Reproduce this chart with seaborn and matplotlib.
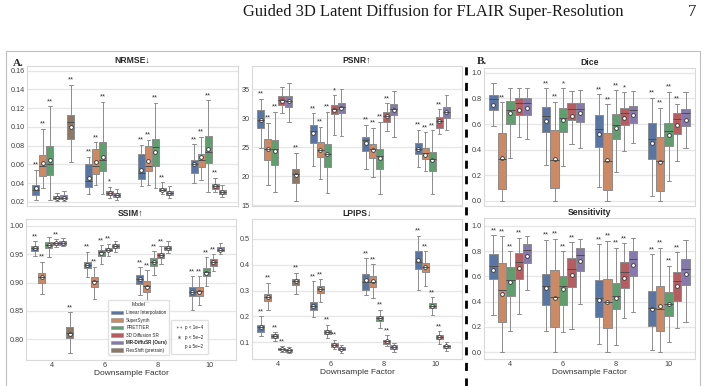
import numpy as np
import pandas as pd
import seaborn as sns
import matplotlib.pyplot as plt
from matplotlib.patches import Patch, Rectangle
from matplotlib.lines import Line2D

nan = np.nan
factors = ["4", "6", "8", "10"]
models = ["Linear Interpolation", "SuperSynth", "PRETTIER", "3D Diffusion SR",
          "MR-DiffuSR (Ours)", "ResShift (pretrain)"]
seg_models = models[:5]

# rows = model, cols = downsample factor (4, 6, 8, 10)
# --- NRMSE ---
nrmse_lo = [[0.022, 0.0286, 0.0364, 0.040], [0.035, 0.0375, 0.0382, 0.0429], [0.022, 0.0279, 0.0343, 0.0304],
            [0.021, 0.024, 0.0279, 0.0307], [0.0207, 0.0221, 0.0239, 0.0254], [0.062, nan, nan, nan]]
nrmse_q1 = [[0.0268, 0.0357, 0.0446, 0.0511], [0.0479, 0.050, 0.0529, 0.0571], [0.0489, 0.0529, 0.0579, 0.0618],
            [0.0232, 0.0268, 0.0311, 0.0339], [0.0229, 0.025, 0.0268, 0.0279], [0.0868, nan, nan, nan]]
nrmse_med = [[0.033, 0.0421, 0.0507, 0.0607], [0.0579, 0.0586, 0.0586, 0.0646], [0.0604, 0.065, 0.0786, 0.0729],
             [0.0245, 0.029, 0.0325, 0.0365], [0.0245, 0.0273, 0.029, 0.030], [0.105, nan, nan, nan]]
nrmse_q3 = [[0.0382, 0.0607, 0.0707, 0.065], [0.070, 0.0768, 0.0793, 0.0714], [0.0796, 0.0836, 0.0871, 0.090],
            [0.0257, 0.031, 0.035, 0.0389], [0.0268, 0.0296, 0.0318, 0.0321], [0.1125, nan, nan, nan]]
nrmse_hi = [[0.0543, 0.0679, 0.0807, 0.0814], [0.0982, 0.0836, 0.0864, 0.0896], [0.1218, 0.127, 0.126, 0.1286],
            [0.0296, 0.036, 0.0411, 0.0457], [0.0318, 0.0339, 0.0371, 0.0382], [0.145, nan, nan, nan]]
nrmse_mean = [[0.0346, 0.045, 0.0543, 0.0607], [0.0614, 0.0625, 0.064, 0.0675], [0.065, 0.0682, 0.0729, 0.0768],
              [0.024, 0.029, 0.0325, 0.0365], [0.024, 0.0275, 0.029, 0.030], [0.100, nan, nan, nan]]
nrmse_sig = [["**"] * 4, ["**"] * 4, ["**"] * 4, ["", "*", "**", "**"], [""] * 4, ["**", "", "", ""]]

# --- PSNR ---
psnr_lo = [[24.9, 21.7, 21.3, 21.65], [18.45, 19.6, 19.95, 20.9], [17.35, 17.2, 16.9, 16.9],
           [30.9, 27.05, 27.8, 27.25], [29.4, 26.95, 26.8, 27.9], [15.75, nan, nan, nan]]
psnr_q1 = [[28.4, 25.8, 24.35, 23.8], [22.9, 23.4, 23.2, 22.95], [21.9, 21.65, 21.2, 20.9],
           [32.3, 30.7, 29.35, 28.4], [31.9, 30.95, 30.5, 30.1], [18.9, nan, nan, nan]]
psnr_med = [[29.65, 27.75, 26.2, 24.65], [24.65, 24.55, 24.65, 23.95], [24.65, 23.8, 23.5, 22.95],
            [33.1, 31.55, 30.4, 29.55], [33.05, 31.95, 31.55, 31.1], [20.35, nan, nan, nan]]
psnr_q3 = [[31.4, 28.8, 26.85, 25.8], [26.4, 26.0, 25.5, 24.95], [26.2, 25.5, 24.75, 24.2],
           [33.75, 32.3, 31.1, 30.2], [33.75, 32.7, 32.4, 31.95], [21.3, nan, nan, nan]]
psnr_hi = [[33.4, 30.9, 28.9, 28.0], [29.25, 28.55, 28.4, 27.6], [31.15, 31.15, 29.4, 27.9],
           [35.45, 34.0, 32.6, 31.55], [36.0, 35.0, 34.7, 33.95], [24.1, nan, nan, nan]]
psnr_mean = [[29.65, 27.4, 25.7, 24.65], [24.65, 24.55, 24.55, 23.7], [24.45, 23.8, 23.1, 22.75],
             [33.0, 31.4, 30.4, 29.5], [32.9, 31.85, 31.4, 31.0], [20.2, nan, nan, nan]]
psnr_sig = nrmse_sig

# --- SSIM ---
ssim_lo = [[0.947, 0.909, 0.878, 0.852], [0.880, 0.871, 0.866, 0.861], [0.945, 0.933, 0.914, 0.894],
           [0.962, 0.946, 0.933, 0.921], [0.964, 0.953, 0.952, 0.950], [0.775, nan, nan, nan]]
ssim_q1 = [[0.956, 0.925, 0.897, 0.876], [0.900, 0.893, 0.884, 0.876], [0.961, 0.947, 0.929, 0.911],
           [0.966, 0.955, 0.943, 0.930], [0.967, 0.961, 0.958, 0.955], [0.802, nan, nan, nan]]
ssim_med = [[0.961, 0.931, 0.906, 0.884], [0.909, 0.902, 0.894, 0.885], [0.966, 0.953, 0.937, 0.918],
            [0.969, 0.958, 0.948, 0.936], [0.970, 0.965, 0.961, 0.958], [0.811, nan, nan, nan]]
ssim_q3 = [[0.964, 0.937, 0.914, 0.893], [0.916, 0.909, 0.903, 0.893], [0.972, 0.958, 0.943, 0.925],
           [0.972, 0.961, 0.952, 0.941], [0.973, 0.968, 0.965, 0.962], [0.821, nan, nan, nan]]
ssim_hi = [[0.973, 0.954, 0.927, 0.911], [0.937, 0.928, 0.922, 0.911], [0.980, 0.966, 0.955, 0.945],
           [0.976, 0.968, 0.964, 0.950], [0.978, 0.974, 0.974, 0.969], [0.848, nan, nan, nan]]
ssim_mean = [[0.961, 0.931, 0.906, 0.884], [0.909, 0.901, 0.893, 0.884], [0.966, 0.952, 0.936, 0.917],
             [0.969, 0.958, 0.948, 0.936], [0.970, 0.965, 0.961, 0.958], [0.809, nan, nan, nan]]
ssim_sig = [["**"] * 4, ["**"] * 4, ["", "**", "**", "**"], ["**"] * 4, [""] * 4, ["**", "", "", ""]]

# --- LPIPS ---
lpips_lo = [[0.123, 0.198, 0.284, 0.301], [0.226, 0.255, 0.272, 0.317], [0.104, 0.117, 0.155, 0.207],
            [0.061, 0.072, 0.085, 0.095], [0.059, 0.059, 0.061, 0.065], [0.287, nan, nan, nan]]
lpips_q1 = [[0.140, 0.226, 0.304, 0.384], [0.259, 0.291, 0.314, 0.371], [0.117, 0.130, 0.181, 0.233],
            [0.069, 0.082, 0.095, 0.113], [0.061, 0.069, 0.072, 0.078], [0.323, nan, nan, nan]]
lpips_med = [[0.158, 0.242, 0.332, 0.410], [0.274, 0.306, 0.332, 0.390], [0.123, 0.140, 0.192, 0.242],
             [0.074, 0.090, 0.104, 0.121], [0.068, 0.075, 0.081, 0.085], [0.336, nan, nan, nan]]
lpips_q3 = [[0.168, 0.257, 0.366, 0.452], [0.287, 0.317, 0.358, 0.407], [0.130, 0.149, 0.203, 0.252],
            [0.078, 0.097, 0.110, 0.127], [0.074, 0.082, 0.088, 0.091], [0.346, nan, nan, nan]]
lpips_hi = [[0.200, 0.336, 0.426, 0.513], [0.330, 0.343, 0.401, 0.452], [0.139, 0.167, 0.226, 0.275],
            [0.085, 0.110, 0.126, 0.143], [0.081, 0.091, 0.097, 0.101], [0.368, nan, nan, nan]]
lpips_mean = [[0.158, 0.242, 0.340, 0.420], [0.274, 0.306, 0.337, 0.390], [0.123, 0.140, 0.192, 0.242],
              [0.074, 0.090, 0.104, 0.121], [0.068, 0.075, 0.081, 0.085], [0.336, nan, nan, nan]]
lpips_sig = [["**"] * 4, ["**"] * 4, ["**"] * 4, ["**"] * 4, [""] * 4, ["**", "", "", ""]]

# --- Dice ---
dice_lo = [[0.587, 0.279, 0.110, 0.037], [0.0, 0.0, 0.0, 0.0], [0.332, 0.274, 0.224, 0.158],
           [0.500, 0.447, 0.392, 0.311], [0.484, 0.413, 0.453, 0.411]]
dice_q1 = [[0.710, 0.537, 0.421, 0.326], [0.095, 0.100, 0.089, 0.079], [0.597, 0.537, 0.484, 0.426],
           [0.674, 0.629, 0.595, 0.526], [0.674, 0.616, 0.611, 0.584]]
dice_med = [[0.795, 0.663, 0.563, 0.484], [0.330, 0.321, 0.311, 0.308], [0.710, 0.650, 0.595, 0.542],
            [0.763, 0.721, 0.684, 0.642], [0.763, 0.721, 0.710, 0.689]]
dice_q3 = [[0.826, 0.732, 0.671, 0.611], [0.534, 0.553, 0.532, 0.500], [0.779, 0.729, 0.682, 0.611],
           [0.800, 0.763, 0.729, 0.689], [0.800, 0.763, 0.737, 0.721]]
dice_hi = [[0.918, 0.879, 0.832, 0.805], [0.768, 0.774, 0.753, 0.726], [0.879, 0.879, 0.863, 0.853],
           [0.884, 0.861, 0.847, 0.758], [0.884, 0.863, 0.855, 0.853]]
dice_mean = [[0.747, 0.621, 0.526, 0.453], [0.337, 0.326, 0.318, 0.305], [0.684, 0.632, 0.566, 0.516],
             [0.710, 0.663, 0.645, 0.595], [0.726, 0.684, 0.668, 0.632]]
dice_sig = [["", "**", "**", "**"], ["**"] * 4, ["", "*", "**", "**"], ["", "", "*", "**"], [""] * 4]

# --- Sensitivity ---
sens_lo = [[0.292, 0.171, 0.066, 0.021], [0.0, 0.0, 0.0, 0.0], [0.171, 0.161, 0.055, 0.079],
           [0.303, 0.184, 0.271, 0.189], [0.495, 0.382, 0.316, 0.237]]
sens_q1 = [[0.579, 0.376, 0.279, 0.205], [0.239, 0.200, 0.192, 0.166], [0.447, 0.371, 0.342, 0.284],
           [0.579, 0.516, 0.508, 0.403], [0.705, 0.642, 0.600, 0.534]]
sens_med = [[0.684, 0.526, 0.426, 0.350], [0.489, 0.434, 0.395, 0.342], [0.571, 0.521, 0.447, 0.384],
            [0.716, 0.658, 0.637, 0.566], [0.805, 0.771, 0.739, 0.658]]
sens_q3 = [[0.776, 0.616, 0.574, 0.482], [0.705, 0.647, 0.579, 0.526], [0.674, 0.603, 0.547, 0.476],
           [0.784, 0.747, 0.713, 0.634], [0.855, 0.826, 0.797, 0.737]]
sens_hi = [[0.924, 0.889, 0.855, 0.776], [0.916, 0.897, 0.882, 0.824], [0.797, 0.800, 0.826, 0.684],
           [0.903, 0.868, 0.863, 0.792], [0.916, 0.897, 0.903, 0.889]]
sens_mean = [[0.647, 0.508, 0.416, 0.342], [0.461, 0.426, 0.397, 0.363], [0.558, 0.500, 0.432, 0.384],
             [0.666, 0.611, 0.589, 0.521], [0.763, 0.718, 0.689, 0.618]]
sens_sig = [["**"] * 4, ["**"] * 4, ["**"] * 4, ["**"] * 4, [""] * 4]

sns.set_theme(style="whitegrid")
plt.rcParams["font.family"] = ["Liberation Sans", "DejaVu Sans"]
plt.rcParams["axes.edgecolor"] = "0.85"
plt.rcParams["axes.linewidth"] = 0.8
plt.rcParams["grid.color"] = "0.9"
plt.rcParams["grid.linewidth"] = 0.9

palette = sns.color_palette("deep", 6)
W, H = 704, 386
fig = plt.figure(figsize=(W / 100, H / 100), dpi=100)


def rect(l, t, r, b):
    return [l / W, 1 - b / H, (r - l) / W, (b - t) / H]


def to_long(names, *tables):
    rows = []
    for m, name in enumerate(names):
        for f, fac in enumerate(factors):
            for tab in tables:
                v = tab[m][f]
                if not np.isnan(v):
                    rows.append((fac, name, v))
    return pd.DataFrame(rows, columns=["factor", "model", "value"])


def panel(box, title, lo, q1, med, q3, hi, mean, sig, names, ylim, yticks, fmt, bottom):
    ax = fig.add_axes(rect(*box))
    n = len(names)
    pal = palette[:n]
    sns.boxplot(data=to_long(names, lo, q1, med, q3, hi), x="factor", y="value", hue="model",
                order=factors, hue_order=names, palette=pal, whis=(0, 100), showfliers=False,
                width=0.8, linewidth=0.7, linecolor="0.55", medianprops={"color": "0.3"},
                legend=False, ax=ax)
    sns.pointplot(data=to_long(names, mean), x="factor", y="value", hue="model",
                  order=factors, hue_order=names, palette=pal, dodge=0.8 * (n - 1) / n,
                  errorbar=None, linestyle="none", marker="o", markersize=2.7,
                  markerfacecolor="white", markeredgecolor="0.2", markeredgewidth=0.6,
                  legend=False, ax=ax)
    w = 0.8 / n
    for m in range(n):
        for f in range(len(factors)):
            if sig[m][f]:
                ax.annotate(sig[m][f], (f - 0.4 + w / 2 + m * w, hi[m][f]), xytext=(0, 0.8),
                            textcoords="offset points", ha="center", va="bottom",
                            fontsize=5.6, color="0.2")
    ax.set_ylim(*ylim)
    ax.set_yticks(yticks)
    ax.set_yticklabels([fmt.format(t) for t in yticks])
    ax.set_xlim(-0.5, 3.5)
    ax.tick_params(axis="both", labelsize=5.2, pad=1.5, length=0, colors="0.25")
    ax.set_title(title, fontsize=6.2, fontweight="bold", pad=2)
    ax.set_ylabel("")
    if bottom:
        ax.set_xlabel("Downsample Factor", fontsize=6.0, labelpad=1, color="0.2")
    else:
        ax.set_xlabel("")
        ax.set_xticklabels([])
    return ax


panel((27, 66, 238, 206), "NRMSE\u2193", nrmse_lo, nrmse_q1, nrmse_med, nrmse_q3, nrmse_hi, nrmse_mean,
      nrmse_sig, models, (0.0155, 0.165), [0.02, 0.04, 0.06, 0.08, 0.10, 0.12, 0.14, 0.16], "{:.2f}", False)
panel((252, 66, 462, 206), "PSNR\u2191", psnr_lo, psnr_q1, psnr_med, psnr_q3, psnr_hi, psnr_mean,
      psnr_sig, models, (14.9, 39.0), [15, 20, 25, 30, 35], "{:.0f}", False)
ax_ssim = panel((26, 219, 236, 360), "SSIM\u2191", ssim_lo, ssim_q1, ssim_med, ssim_q3, ssim_hi, ssim_mean,
                ssim_sig, models, (0.7635, 1.012), [0.80, 0.85, 0.90, 0.95, 1.00], "{:.2f}", True)
panel((252, 219, 462, 359), "LPIPS\u2193", lpips_lo, lpips_q1, lpips_med, lpips_q3, lpips_hi, lpips_mean,
      lpips_sig, models, (0.035, 0.577), [0.1, 0.2, 0.3, 0.4, 0.5], "{:.1f}", True)
panel((484, 68, 695, 206), "Dice", dice_lo, dice_q1, dice_med, dice_q3, dice_hi, dice_mean,
      dice_sig, seg_models, (-0.039, 1.037), [0.0, 0.2, 0.4, 0.6, 0.8, 1.0], "{:.1f}", False)
panel((484, 218, 695, 359), "Sensitivity", sens_lo, sens_q1, sens_med, sens_q3, sens_hi, sens_mean,
      sens_sig, seg_models, (-0.053, 1.061), [0.0, 0.2, 0.4, 0.6, 0.8, 1.0], "{:.1f}", True)

# legends inside the SSIM panel
handles = [Patch(facecolor=sns.desaturate(c, 0.75), edgecolor="0.55", linewidth=0.4) for c in palette]
leg = ax_ssim.legend(handles, models, title="Model", loc="lower left", bbox_to_anchor=(0.381, 0.02),
                     fontsize=3.3, title_fontsize=3.6, handlelength=2.6, handleheight=0.9,
                     labelspacing=0.55, borderpad=0.5, frameon=True, edgecolor="0.85")
for t in leg.get_texts():
    if t.get_text().startswith("MR-"):
        t.set_fontweight("bold")
ax_ssim.add_artist(leg)
p_handles = [Line2D([], [], linestyle="none", marker=r"$**$", markersize=4, color="0.2", markeredgewidth=0),
             Line2D([], [], linestyle="none", marker=r"$*$", markersize=2.5, color="0.2", markeredgewidth=0),
             Line2D([], [], linestyle="none")]
ax_ssim.legend(p_handles, ["p < 1e\u22124", "p < 5e\u22122", "p \u2265 5e\u22122"], loc="lower left",
               bbox_to_anchor=(0.681, 0.028), fontsize=3.3, handlelength=1.2, labelspacing=1.0,
               borderpad=1.0, frameon=True, edgecolor="0.85")

# page decorations
fig.add_artist(Rectangle((6 / W, -0.1), 694 / W, 0.1 + 1 - 51 / H, transform=fig.transFigure,
                         fill=False, edgecolor="0.75", linewidth=0.8))
fig.add_artist(Line2D([466 / W, 466 / W], [0, 1 - 61 / H], transform=fig.transFigure,
                      color="black", linewidth=2.0, linestyle=(0, (2.9, 2.7))))
fig.text(13 / W, 1 - 63 / H, "A.", fontsize=8, fontweight="bold", family="Liberation Serif", va="center")
fig.text(477 / W, 1 - 62 / H, "B.", fontsize=8, fontweight="bold", family="Liberation Serif", va="center")
fig.text(243 / W, 1 - 12 / H, "Guided 3D Latent Diffusion for FLAIR Super-Resolution",
         fontsize=11.9, family="Liberation Serif", va="center", color="0.1")
fig.text(696 / W, 1 - 12 / H, "7", fontsize=11.9, family="Liberation Serif", va="center", ha="right", color="0.1")

fig.savefig("out.png", dpi=100)
